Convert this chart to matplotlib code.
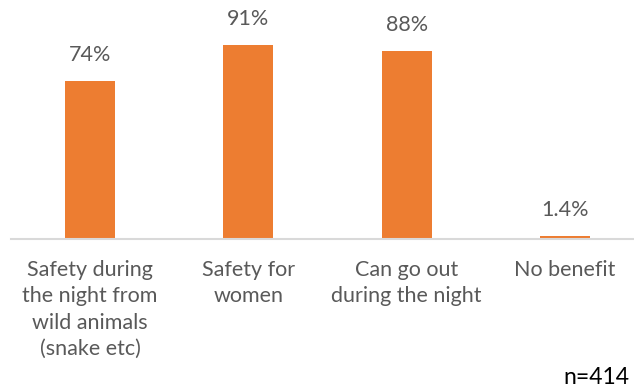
import matplotlib.pyplot as plt

# data
categories = [
    "Safety during\nthe night from\nwild animals\n(snake etc)",
    "Safety for\nwomen",
    "Can go out\nduring the night",
    "No benefit",
]
values = [74, 91, 88, 1.4]
value_labels = ["74%", "91%", "88%", "1.4%"]

plt.rcParams['font.family'] = ['Lato', 'DejaVu Sans']

fig = plt.figure(figsize=(6.34, 3.89), dpi=100)
W, H = 634, 389
# axes in pixel terms: baseline at y=239, 100% at 213.5px above
ax = fig.add_axes([11 / W, (H - 239) / H, 633 / W, 213.5 / H])

x = list(range(len(values)))
ax.bar(x, values, width=0.316, color='#ED7D31')
ax.set_xlim(-0.5, len(values) - 0.5)
ax.set_ylim(0, 100)

for xi, v, lab in zip(x, values, value_labels):
    ax.annotate(lab, (xi, v), xytext=(0, 18.5), textcoords='offset points',
                ha='center', va='center', fontsize=15.5, color='#595959')

for s in ['top', 'right', 'left']:
    ax.spines[s].set_visible(False)
ax.spines['bottom'].set_color('#D9D9D9')
ax.spines['bottom'].set_linewidth(1.5)
ax.set_yticks([])
ax.set_xticks(x)
ax.set_xticklabels(categories, fontsize=15.5, color='#595959', linespacing=1.4)
ax.tick_params(axis='x', length=0, pad=15)

fig.text(629 / W, (H - 378) / H, "n=414", ha='right', va='center',
         fontsize=16.5, color='black')

fig.savefig('out.png', dpi=100)
